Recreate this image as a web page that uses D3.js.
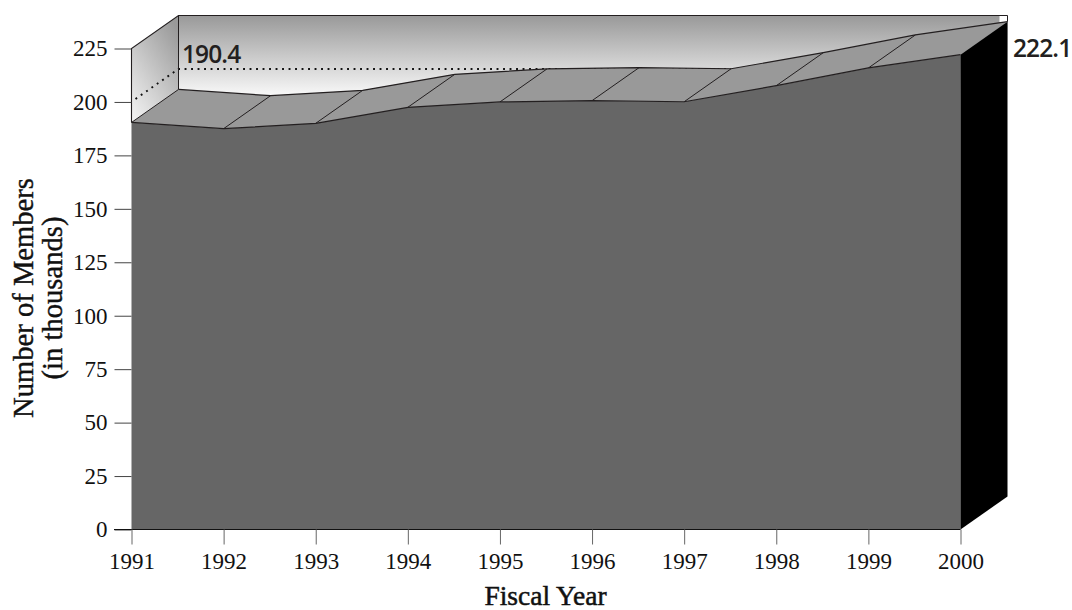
<!DOCTYPE html>
<html><head><meta charset="utf-8">
<script src="https://cdnjs.cloudflare.com/ajax/libs/d3/7.8.5/d3.min.js"></script>
<style>html,body{margin:0;background:#fff}svg{display:block}</style></head>
<body><svg id="c" width="1072" height="610"></svg>
<script>
const years=[1991,1992,1993,1994,1995,1996,1997,1998,1999,2000];
const members=[190.4,187.5,190,197.5,200,200.6,200.1,207.6,215.9,222.1];
const yTicks=[0,25,50,75,100,125,150,175,200,225];
const svg=d3.select("#c");
const x=d3.scaleLinear().domain([1991,2000]).range([131.5,960.5]);
const y=d3.scaleLinear().domain([0,225]).range([529.5,48.5]);
const dx=47,dy=-33;
const serif="'Liberation Serif',serif";
const defs=svg.append("defs");
const g1=defs.append("linearGradient").attr("id","back").attr("x1",0).attr("y1",0).attr("x2",0).attr("y2",1);
g1.append("stop").attr("offset",0).attr("stop-color","#999");
g1.append("stop").attr("offset",1).attr("stop-color","#fff");
const g2=defs.append("linearGradient").attr("id","side").attr("x1",0.8).attr("y1",0).attr("x2",0.2).attr("y2",1);
g2.append("stop").attr("offset",0).attr("stop-color","#999");
g2.append("stop").attr("offset",1).attr("stop-color","#f4f4f4");
const yMax=225;
const P=(a,b)=>a+","+b;
// back wall
svg.append("rect").attr("x",x(1991)+dx).attr("y",y(yMax)+dy).attr("width",x(2000)-x(1991)).attr("height",y(185)-y(yMax)).attr("fill","url(#back)");
// side wall
svg.append("polygon").attr("points",[P(x(1991),y(yMax)),P(x(1991)+dx,y(yMax)+dy),P(x(1991)+dx,y(185)+dy),P(x(1991),y(185))].join(" ")).attr("fill","url(#side)");
// white corner
svg.append("rect").attr("x",x(2000)+dx-8).attr("y",y(yMax)+dy).attr("width",8).attr("height",7).attr("fill","#fff");
// gridline 200
const dot={stroke:"#111",w:1.9,dash:"1.9 4.6"};
svg.append("polyline").attr("points",[P(x(1991)+4,y(200)-3),P(x(1991)+dx,y(200)+dy),P(x(1997)+dx,y(200)+dy)].join(" "))
 .attr("fill","none").attr("stroke",dot.stroke).attr("stroke-width",dot.w).attr("stroke-dasharray",dot.dash);
// wall edges
const edge="#231f20";
svg.append("polyline").attr("points",[P(x(1991),y(members[0])),P(x(1991),y(yMax)),P(x(1991)+dx,y(yMax)+dy),P(x(2000)+dx,y(yMax)+dy)].join(" ")).attr("fill","none").attr("stroke",edge).attr("stroke-width",1.1);
svg.append("line").attr("x1",x(1991)+dx).attr("x2",x(1991)+dx).attr("y1",y(yMax)+dy).attr("y2",y(members[0])+dy).attr("stroke",edge).attr("stroke-width",1);
// top surface
const fr=years.map((t,i)=>[x(t),y(members[i])]);
const bk=fr.map(p=>[p[0]+dx,p[1]+dy]);
svg.append("path").attr("d",d3.line()(fr.concat(bk.slice().reverse()))+"Z").attr("fill","#999");
// segment dividers
fr.slice(1,-1).forEach((p,i)=>{svg.append("line").attr("x1",p[0]).attr("y1",p[1]).attr("x2",bk[i+1][0]).attr("y2",bk[i+1][1]).attr("stroke",edge).attr("stroke-width",1);});
svg.append("line").attr("x1",fr[0][0]).attr("y1",fr[0][1]).attr("x2",bk[0][0]).attr("y2",bk[0][1]).attr("stroke",edge).attr("stroke-width",1);
// front area
const area=d3.area().x(d=>d[0]).y0(y(0)).y1(d=>d[1]);
svg.append("path").attr("d",area(fr)).attr("fill","#666");
// side face
const lastF=fr[fr.length-1],lastB=bk[bk.length-1];
svg.append("polygon").attr("points",[P(lastF[0],lastF[1]),P(lastB[0],lastB[1]),P(lastB[0],y(0)+dy),P(lastF[0],y(0))].join(" ")).attr("fill","#000");
svg.append("line").attr("x1",x(2000)+dx).attr("x2",x(2000)+dx).attr("y1",y(yMax)+dy).attr("y2",lastB[1]).attr("stroke",edge).attr("stroke-width",1);
// ridge lines
svg.append("path").attr("d",d3.line()(fr)).attr("fill","none").attr("stroke",edge).attr("stroke-width",1.2);
svg.append("path").attr("d",d3.line()(bk)).attr("fill","none").attr("stroke",edge).attr("stroke-width",1.2);
// axes
const ay=svg.append("g").attr("transform","translate(131.5,0)").call(d3.axisLeft(y).tickValues(yTicks).tickSize(17).tickPadding(7).tickFormat(d3.format("d")));
ay.select(".domain").remove();
ay.selectAll("line").attr("stroke","#444").attr("stroke-width",1);
ay.selectAll("text").attr("font-family",serif).attr("font-size",23).attr("fill","#111");
const ax=svg.append("g").attr("transform","translate(0,529.5)").call(d3.axisBottom(x).tickValues(years).tickSize(15).tickPadding(8).tickFormat(d3.format("d")));
ax.select(".domain").attr("d","M114,0H960.5").attr("stroke","#111").attr("stroke-width",1);
ax.selectAll("line").attr("stroke","#666").attr("stroke-width",1);
ax.selectAll("text").attr("font-family",serif).attr("font-size",23).attr("fill","#111");
// titles
svg.append("text").attr("x",545.5).attr("y",605).attr("text-anchor","middle").attr("font-family",serif).attr("font-size",27.5).attr("fill","#111").attr("stroke","#111").attr("stroke-width",0.5).text("Fiscal Year");
const yl=svg.append("text").attr("transform","translate(0,298) rotate(-90)").attr("text-anchor","middle").attr("font-family",serif).attr("font-size",28.6).attr("fill","#111").attr("stroke","#111").attr("stroke-width",0.4);
yl.append("tspan").attr("x",0).attr("y",33).text("Number of Members");
yl.append("tspan").attr("x",0).attr("y",62).text("(in thousands)");
// value labels
const lab="'Open Sans',sans-serif";
svg.append("text").attr("x",182).attr("y",63).attr("font-family",lab).attr("font-weight",600).attr("font-size",24.5).attr("letter-spacing",-0.9).attr("fill","#231f20").text(members[0].toFixed(1));
svg.append("text").attr("x",1013).attr("y",57).attr("font-family",lab).attr("font-weight",600).attr("font-size",24.5).attr("letter-spacing",-0.9).attr("fill","#231f20").text(members[9].toFixed(1));
</script></body></html>
